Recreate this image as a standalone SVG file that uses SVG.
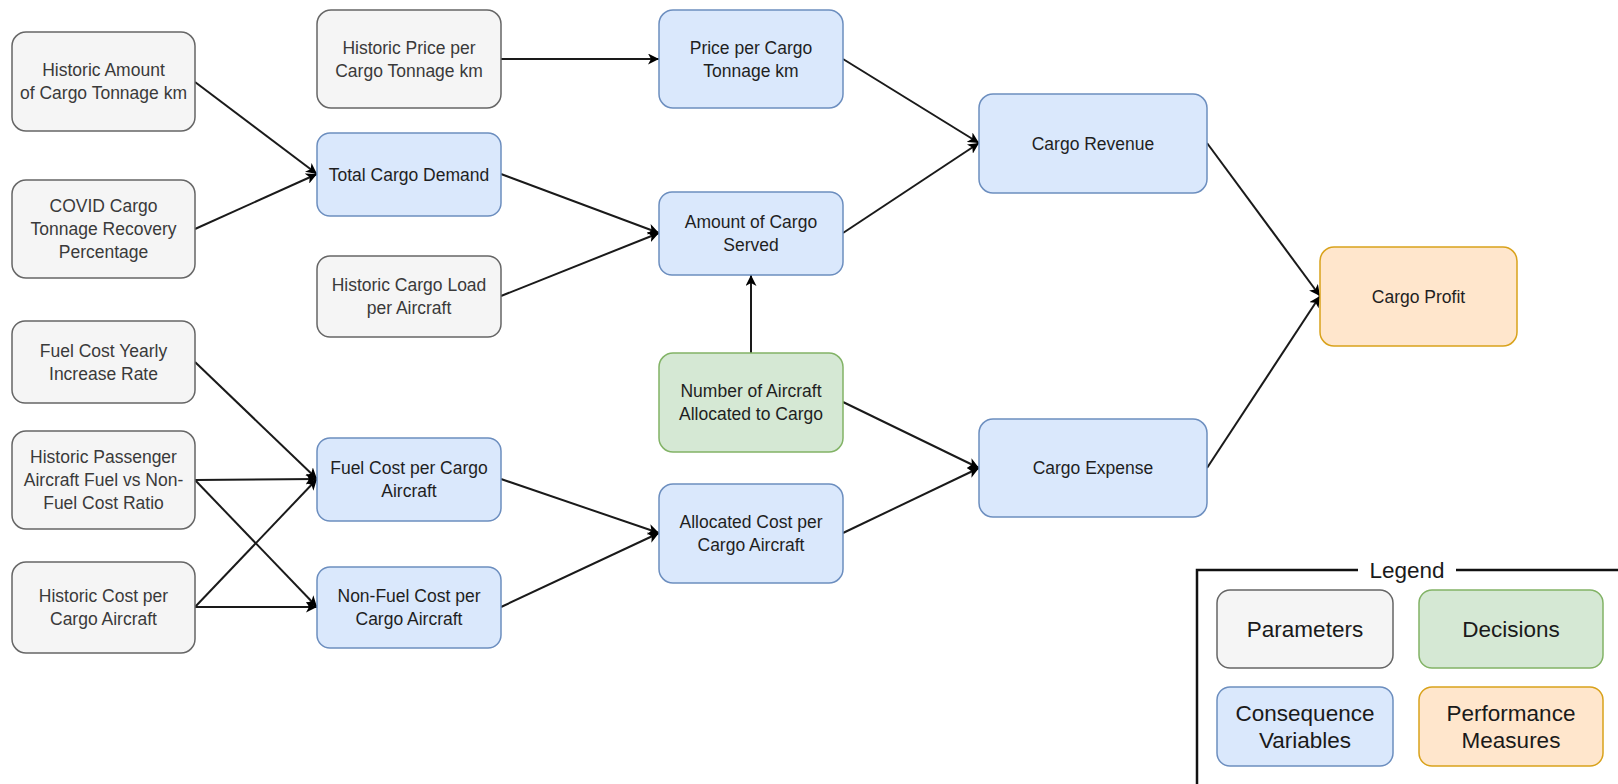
<svg xmlns="http://www.w3.org/2000/svg" width="1618" height="784" viewBox="0 0 1618 784">
<defs>
<style>
.n{stroke-width:1.5}
.p{fill:#f5f5f5;stroke:#666666}
.c{fill:#dae8fc;stroke:#6c8ebf}
.d{fill:#d5e8d4;stroke:#82b366}
.m{fill:#ffe6cc;stroke:#d9a21b}
text{font-family:"Liberation Sans",Arial,sans-serif;font-size:17.5px;text-anchor:middle;dominant-baseline:central}
.tp{fill:#3a3a3a}
.tc{fill:#1f1f1f}
.lg{font-size:22.5px;fill:#1a1a1a}
.e{fill:none;stroke:#1a1a1a;stroke-width:2;marker-end:url(#a)}
</style>
<marker id="a" markerUnits="userSpaceOnUse" markerWidth="12" markerHeight="11" refX="11" refY="5.5" orient="auto">
<path d="M0,0 L11,5.5 L0,11 L3,5.5 z" fill="#000"/>
</marker>
</defs>
<rect width="1618" height="784" fill="#ffffff"/>
<g id="connectors">
<path class="e" d="M195,82 L317,174"/>
<path class="e" d="M195,229 L317,174"/>
<path class="e" d="M501,59 L659,59"/>
<path class="e" d="M501,174 L659,233"/>
<path class="e" d="M501,296 L659,233"/>
<path class="e" d="M843,59 L979,143"/>
<path class="e" d="M843,233 L979,143"/>
<path class="e" d="M751,353 L751,275"/>
<path class="e" d="M843,402 L979,468"/>
<path class="e" d="M843,533 L979,468"/>
<path class="e" d="M195,362 L317,479"/>
<path class="e" d="M195,480 L317,479"/>
<path class="e" d="M195,480 L317,607"/>
<path class="e" d="M195,607 L317,479"/>
<path class="e" d="M195,607 L317,607"/>
<path class="e" d="M501,479 L659,533"/>
<path class="e" d="M501,607 L659,533"/>
<path class="e" d="M1207,143 L1320,296"/>
<path class="e" d="M1207,468 L1320,296"/>
</g>
<g id="historic-amount"><rect class="n p" x="12" y="32" width="183" height="99" rx="14"/><text class="tp" x="103.5" y="70">Historic Amount</text><text class="tp" x="103.5" y="93">of Cargo Tonnage km</text></g>
<g id="covid-recovery"><rect class="n p" x="12" y="180" width="183" height="98" rx="14"/><text class="tp" x="103.5" y="206">COVID Cargo</text><text class="tp" x="103.5" y="229">Tonnage Recovery</text><text class="tp" x="103.5" y="252">Percentage</text></g>
<g id="historic-price"><rect class="n p" x="317" y="10" width="184" height="98" rx="14"/><text class="tp" x="409" y="47.5">Historic Price per</text><text class="tp" x="409" y="70.5">Cargo Tonnage km</text></g>
<g id="total-demand"><rect class="n c" x="317" y="133" width="184" height="83" rx="13"/><text class="tc" x="409" y="174.5">Total Cargo Demand</text></g>
<g id="historic-load"><rect class="n p" x="317" y="256" width="184" height="81" rx="13"/><text class="tp" x="409" y="285">Historic Cargo Load</text><text class="tp" x="409" y="308">per Aircraft</text></g>
<g id="fuel-increase"><rect class="n p" x="12" y="321" width="183" height="82" rx="13"/><text class="tp" x="103.5" y="350.5">Fuel Cost Yearly</text><text class="tp" x="103.5" y="373.5">Increase Rate</text></g>
<g id="historic-passenger"><rect class="n p" x="12" y="431" width="183" height="98" rx="14"/><text class="tp" x="103.5" y="457">Historic Passenger</text><text class="tp" x="103.5" y="480">Aircraft Fuel vs Non-</text><text class="tp" x="103.5" y="503">Fuel Cost Ratio</text></g>
<g id="historic-cost"><rect class="n p" x="12" y="562" width="183" height="91" rx="14"/><text class="tp" x="103.5" y="596">Historic Cost per</text><text class="tp" x="103.5" y="619">Cargo Aircraft</text></g>
<g id="fuel-cost"><rect class="n c" x="317" y="438" width="184" height="83" rx="13"/><text class="tc" x="409" y="468">Fuel Cost per Cargo</text><text class="tc" x="409" y="491">Aircraft</text></g>
<g id="nonfuel-cost"><rect class="n c" x="317" y="567" width="184" height="81" rx="13"/><text class="tc" x="409" y="596">Non-Fuel Cost per</text><text class="tc" x="409" y="619">Cargo Aircraft</text></g>
<g id="price"><rect class="n c" x="659" y="10" width="184" height="98" rx="14"/><text class="tc" x="751" y="47.5">Price per Cargo</text><text class="tc" x="751" y="70.5">Tonnage km</text></g>
<g id="amount-served"><rect class="n c" x="659" y="192" width="184" height="83" rx="13"/><text class="tc" x="751" y="222">Amount of Cargo</text><text class="tc" x="751" y="245">Served</text></g>
<g id="num-aircraft"><rect class="n d" x="659" y="353" width="184" height="99" rx="14"/><text class="tc" x="751" y="391">Number of Aircraft</text><text class="tc" x="751" y="414">Allocated to Cargo</text></g>
<g id="allocated-cost"><rect class="n c" x="659" y="484" width="184" height="99" rx="14"/><text class="tc" x="751" y="522">Allocated Cost per</text><text class="tc" x="751" y="545">Cargo Aircraft</text></g>
<g id="revenue"><rect class="n c" x="979" y="94" width="228" height="99" rx="14"/><text class="tc" x="1093" y="143.5">Cargo Revenue</text></g>
<g id="expense"><rect class="n c" x="979" y="419" width="228" height="98" rx="14"/><text class="tc" x="1093" y="468">Cargo Expense</text></g>
<g id="profit"><rect class="n m" x="1320" y="247" width="197" height="99" rx="14"/><text class="tc" x="1418.5" y="296.5">Cargo Profit</text></g>
<g id="legend">
<path d="M1358,570 L1197,570 L1197,784 M1456,570 L1618,570" fill="none" stroke="#111" stroke-width="2.5"/>
<text class="lg" x="1407" y="570">Legend</text>
<rect class="n p" x="1217" y="590" width="176" height="78" rx="13"/><text class="lg" x="1305" y="629">Parameters</text>
<rect class="n d" x="1419" y="590" width="184" height="78" rx="13"/><text class="lg" x="1511" y="629">Decisions</text>
<rect class="n c" x="1217" y="687" width="176" height="79" rx="13"/><text class="lg" x="1305" y="713">Consequence</text><text class="lg" x="1305" y="740">Variables</text>
<rect class="n m" x="1419" y="687" width="184" height="79" rx="13"/><text class="lg" x="1511" y="713">Performance</text><text class="lg" x="1511" y="740">Measures</text>
</g>
</svg>
